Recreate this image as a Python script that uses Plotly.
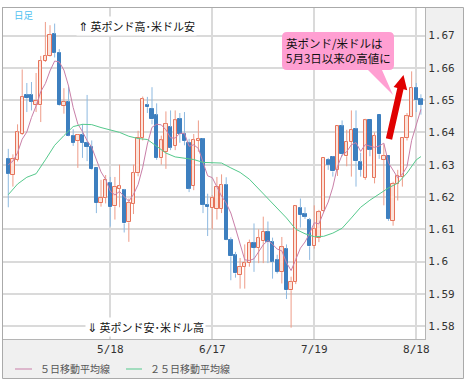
import math
import plotly.graph_objects as go

# ---- data (GBP/USD daily candles, index = trading day) ----
open_ = [1.6319, 1.6268, 1.6316, 1.6395, 1.6516, 1.6516, 1.6486, 1.6484, 1.6621, 1.6637,
         1.6705, 1.6647, 1.6482, 1.6495, 1.6390, 1.6374, 1.6392, 1.6368, 1.6355, 1.6289,
         1.6181, 1.6198, 1.6244, 1.6171, 1.6226, 1.6221, 1.6121, 1.6179, 1.6274, 1.6384,
         1.6485, 1.6474, 1.6453, 1.6320, 1.6340, 1.6416, 1.6358, 1.6442, 1.6395, 1.6368,
         1.6234, 1.6374, 1.6379, 1.6176, 1.6165, 1.6163, 1.6163, 1.6237, 1.6066, 1.6019,
         1.5958, 1.5984, 1.5995, 1.6058, 1.6042, 1.6063, 1.6093, 1.6060, 1.6005, 1.5968,
         1.6040, 1.5911, 1.5937, 1.6166, 1.6147, 1.6128, 1.6047, 1.6074, 1.6158, 1.6316,
         1.6324, 1.6284, 1.6419, 1.6326, 1.6371, 1.6411, 1.6308, 1.6260, 1.6437, 1.6260,
         1.6453, 1.6316, 1.6326, 1.6126, 1.6240, 1.6263, 1.6384, 1.6449, 1.6539, 1.6503]
high = [1.6349, 1.6332, 1.6425, 1.6595, 1.6553, 1.6556, 1.6584, 1.6637, 1.6742, 1.6732,
        1.6737, 1.6658, 1.6537, 1.6542, 1.6410, 1.6395, 1.6426, 1.6516, 1.6375, 1.6290,
        1.6253, 1.6268, 1.6262, 1.6262, 1.6300, 1.6225, 1.6195, 1.6300, 1.6405, 1.6511,
        1.6510, 1.6540, 1.6490, 1.6390, 1.6465, 1.6468, 1.6468, 1.6460, 1.6463, 1.6380,
        1.6395, 1.6437, 1.6382, 1.6210, 1.6205, 1.6262, 1.6270, 1.6261, 1.6075, 1.6030,
        1.6011, 1.6053, 1.6068, 1.6118, 1.6100, 1.6139, 1.6124, 1.6074, 1.6021, 1.6076,
        1.6053, 1.5953, 1.6174, 1.6195, 1.6168, 1.6135, 1.6174, 1.6160, 1.6321, 1.6321,
        1.6326, 1.6421, 1.6437, 1.6408, 1.6468, 1.6468, 1.6337, 1.6442, 1.6437, 1.6400,
        1.6453, 1.6363, 1.6326, 1.6247, 1.6284, 1.6384, 1.6460, 1.6589, 1.6553, 1.6518]
low = [1.6168, 1.6232, 1.6310, 1.6392, 1.6463, 1.6468, 1.6463, 1.6432, 1.6618, 1.6635,
       1.6632, 1.6482, 1.6458, 1.6388, 1.6358, 1.6290, 1.6321, 1.6311, 1.6284, 1.6150,
       1.6170, 1.6180, 1.6108, 1.6130, 1.6168, 1.6090, 1.6061, 1.6147, 1.6264, 1.6375,
       1.6460, 1.6425, 1.6315, 1.6300, 1.6287, 1.6345, 1.6345, 1.6368, 1.6360, 1.6215,
       1.6221, 1.6340, 1.6150, 1.6079, 1.6100, 1.6130, 1.6150, 1.6066, 1.5942, 1.5950,
       1.5916, 1.5916, 1.5984, 1.5968, 1.5995, 1.5995, 1.5995, 1.5947, 1.5963, 1.5932,
       1.5884, 1.5795, 1.5930, 1.6105, 1.6132, 1.6005, 1.6040, 1.6060, 1.6150, 1.6284,
       1.6263, 1.6265, 1.6326, 1.6295, 1.6263, 1.6232, 1.6263, 1.6253, 1.6326, 1.6242,
       1.6318, 1.6174, 1.6126, 1.6111, 1.6189, 1.6232, 1.6375, 1.6447, 1.6463, 1.6455]
close = [1.6272, 1.6318, 1.6400, 1.6511, 1.6506, 1.6495, 1.6498, 1.6621, 1.6637, 1.6702,
         1.6647, 1.6484, 1.6495, 1.6390, 1.6368, 1.6392, 1.6368, 1.6355, 1.6286, 1.6181,
         1.6198, 1.6253, 1.6168, 1.6232, 1.6234, 1.6118, 1.6181, 1.6274, 1.6384, 1.6503,
         1.6478, 1.6440, 1.6321, 1.6375, 1.6426, 1.6353, 1.6437, 1.6395, 1.6374, 1.6226,
         1.6376, 1.6380, 1.6176, 1.6169, 1.6198, 1.6232, 1.6237, 1.6068, 1.6016, 1.5963,
         1.5984, 1.5995, 1.6058, 1.6042, 1.6072, 1.6093, 1.6060, 1.6000, 1.5968, 1.6044,
         1.5911, 1.5937, 1.6171, 1.6144, 1.6139, 1.6047, 1.6100, 1.6153, 1.6321, 1.6300,
         1.6279, 1.6419, 1.6332, 1.6371, 1.6408, 1.6311, 1.6284, 1.6437, 1.6347, 1.6389,
         1.6332, 1.6328, 1.6132, 1.6240, 1.6266, 1.6384, 1.6450, 1.6537, 1.6500, 1.6486]

# 5-day MA: first values (they need earlier closes), rest from closes
ma5_head = [1.6300, 1.6311, 1.6337, 1.6379]
# 25-day MA
ma25_idx = [0, 2, 4, 6, 8, 10, 12, 14, 16, 18, 20, 22, 24, 26, 28, 30, 32, 34, 36, 38,
            40, 42, 44, 46, 48, 50, 52, 54, 56, 58, 60, 62, 64, 66, 68, 70, 72, 74, 76, 78,
            80, 82, 84, 86, 88, 89]
ma25_val = [1.6207, 1.6240, 1.6261, 1.6272, 1.6315, 1.6360, 1.6390, 1.6418, 1.6425, 1.6424,
            1.6415, 1.6408, 1.6400, 1.6388, 1.6381, 1.6378, 1.6358, 1.6336, 1.6324, 1.6321,
            1.6316, 1.6307, 1.6306, 1.6305, 1.6290, 1.6276, 1.6255, 1.6225, 1.6195, 1.6165,
            1.6135, 1.6100, 1.6086, 1.6077, 1.6078, 1.6088, 1.6103, 1.6135, 1.6168, 1.6190,
            1.6210, 1.6228, 1.6243, 1.6274, 1.6315, 1.6325]

xtick_idx = [22, 44, 66, 88]
xtick_text = ["5/18", "6/17", "7/19", "8/18"]
ytick_vals = [1.58, 1.59, 1.60, 1.61, 1.62, 1.63, 1.64, 1.65, 1.66, 1.67]
ytick_text = ["1.58", "1.59", "1.6", "1.61", "1.62", "1.63", "1.64", "1.65", "1.66", "1.67"]

legend_labels = ["５日移動平均線", "２５日移動平均線"]

# ---- styling ----
W, H = 469, 385
ML, MR, MT, MB = 3, 44, 8, 46
PW, PH = W - ML - MR, H - MT - MB

UP_LINE, UP_FILL, UP_WICK = "#E6735A", "#FCE4DB", "#EE9C88"
DN_FILL, DN_WICK = "#3D7FBF", "#8DB9E0"
MA5_C, MA25_C = "#C97FA8", "#55C98C"
GRID = "#DADADA"
PANEL = "#F0F0F0"
FRAME = "#AAAAAA"
JP = "Noto Sans CJK JP"
MONO = "DejaVu Sans Mono"
ARW = "<span style='font-family:DejaVu Sans;font-size:12px'>{}</span>"


def px(x):
    return (x - ML) / PW


def py(y):
    return (H - MB - y) / PH


n = len(close)
idx = list(range(n))
ma5 = ma5_head + [sum(close[i - 4:i + 1]) / 5 for i in range(4, n)]

# wicks
wu_x, wu_y, wd_x, wd_y = [], [], [], []
for i in idx:
    top, bot = max(open_[i], close[i]), min(open_[i], close[i])
    if close[i] >= open_[i]:
        wu_x += [i, i, None, i, i, None]
        wu_y += [high[i], top, None, bot, low[i], None]
    else:
        wd_x += [i, i, None, i, i, None]
        wd_y += [high[i], top, None, bot, low[i], None]

fig = go.Figure()
fig.add_trace(go.Scatter(x=wu_x, y=wu_y, mode="lines", line=dict(color=UP_WICK, width=1),
                         hoverinfo="skip", showlegend=False))
fig.add_trace(go.Scatter(x=wd_x, y=wd_y, mode="lines", line=dict(color=DN_WICK, width=1),
                         hoverinfo="skip", showlegend=False))

body_base = [min(o, c) for o, c in zip(open_, close)]
body_h = [max(abs(c - o), 0.00005) for o, c in zip(open_, close)]
up = [c >= o for o, c in zip(open_, close)]
fig.add_trace(go.Bar(
    x=idx, y=body_h, base=body_base, width=0.72,
    marker=dict(color=[UP_FILL if u else DN_FILL for u in up],
                line=dict(color=[UP_LINE if u else DN_FILL for u in up], width=1)),
    hoverinfo="skip", showlegend=False))

fig.add_trace(go.Scatter(x=idx, y=ma5, mode="lines", line=dict(color=MA5_C, width=1),
                         name=legend_labels[0], showlegend=False))
fig.add_trace(go.Scatter(x=ma25_idx, y=ma25_val, mode="lines", line=dict(color=MA25_C, width=1),
                         name=legend_labels[1], showlegend=False))

shapes = []
# gray panels (right and bottom) + frame
shapes.append(dict(type="rect", xref="paper", yref="paper", x0=px(425), x1=px(463.5),
                   y0=py(339), y1=py(7.5), fillcolor=PANEL, line=dict(width=0), layer="below"))
shapes.append(dict(type="rect", xref="paper", yref="paper", x0=px(2.5), x1=px(463.5),
                   y0=py(378.5), y1=py(339), fillcolor=PANEL, line=dict(width=0), layer="below"))
shapes.append(dict(type="rect", xref="paper", yref="paper", x0=px(2.5), x1=px(463.5),
                   y0=py(378.5), y1=py(7.5), fillcolor="rgba(0,0,0,0)",
                   line=dict(color=FRAME, width=1), layer="above"))

# callout bubble
r = 5
bx0, bx1, by0, by1 = 282, 394, 32, 70
pts = [("M", bx0 + r, by0), ("L", bx1 - r, by0), ("Q", bx1, by0, bx1, by0 + r),
       ("L", bx1, by1 - r), ("Q", bx1, by1, bx1 - r, by1), ("L", 382, by1),
       ("L", 393, 95), ("L", 368, by1), ("L", bx0 + r, by1),
       ("Q", bx0, by1, bx0, by1 - r), ("L", bx0, by0 + r), ("Q", bx0, by0, bx0 + r, by0)]
path = ""
for p in pts:
    if p[0] == "Q":
        path += f"Q{px(p[1])},{py(p[2])} {px(p[3])},{py(p[4])} "
    else:
        path += f"{p[0]}{px(p[1])},{py(p[2])} "
path += "Z"
shapes.append(dict(type="path", xref="paper", yref="paper", path=path,
                   fillcolor="#FF9FD2", line=dict(width=0), layer="above"))

# red arrow polygon
tx, ty, hx, hy = 389, 139, 403.5, 75
dx, dy = hx - tx, hy - ty
ln = math.hypot(dx, dy)
ux, uy = dx / ln, dy / ln
nx, ny = -uy, ux
sw, hw, hl = 3.2, 7.0, 14
neck = (hx - ux * hl, hy - uy * hl)
poly = [(tx + nx * sw, ty + ny * sw), (neck[0] + nx * sw, neck[1] + ny * sw),
        (neck[0] + nx * hw, neck[1] + ny * hw), (hx, hy),
        (neck[0] - nx * hw, neck[1] - ny * hw), (neck[0] - nx * sw, neck[1] - ny * sw),
        (tx - nx * sw, ty - ny * sw)]
apath = "M" + " L".join(f"{px(a)},{py(b)}" for a, b in poly) + " Z"
shapes.append(dict(type="path", xref="paper", yref="paper", path=apath,
                   fillcolor="#E00000", line=dict(width=0), layer="above"))

# legend lines
shapes.append(dict(type="line", xref="paper", yref="paper", x0=px(15), x1=px(32),
                   y0=py(369), y1=py(369), line=dict(color=MA5_C, width=1)))
shapes.append(dict(type="line", xref="paper", yref="paper", x0=px(126), x1=px(142),
                   y0=py(369), y1=py(369), line=dict(color=MA25_C, width=1)))

annotations = [
    dict(text="日足", x=px(24), y=py(15.5), xref="paper", yref="paper", showarrow=False,
         font=dict(family=JP, size=9.5, color="#4FC1F0"), xanchor="center", yanchor="middle"),
    dict(text=ARW.format("⇑") + " 英ポンド高･米ドル安", x=px(136.5), y=py(26), xref="paper",
         yref="paper", showarrow=False, bgcolor="white", borderpad=1,
         font=dict(family=JP, size=11, color="#111111"), xanchor="center", yanchor="middle"),
    dict(text=ARW.format("⇓") + " 英ポンド安･米ドル高", x=px(145.5), y=py(327), xref="paper",
         yref="paper", showarrow=False, bgcolor="white", borderpad=1,
         font=dict(family=JP, size=11, color="#111111"), xanchor="center", yanchor="middle"),
    dict(text="英ポンド/米ドルは<br>5月3日以来の高値に", x=px(284), y=py(50), xref="paper",
         yref="paper", showarrow=False, align="left",
         font=dict(family=JP, size=11.5, color="#111111"), xanchor="left", yanchor="middle"),
    dict(text=legend_labels[0], x=px(38), y=py(369), xref="paper", yref="paper",
         showarrow=False, font=dict(family=JP, size=10, color="#555555"),
         xanchor="left", yanchor="middle"),
    dict(text=legend_labels[1], x=px(148), y=py(369), xref="paper", yref="paper",
         showarrow=False, font=dict(family=JP, size=10, color="#555555"),
         xanchor="left", yanchor="middle"),
]

fig.update_layout(
    width=W, height=H, margin=dict(l=ML, r=MR, t=MT, b=MB, pad=0),
    paper_bgcolor="white", plot_bgcolor="white",
    shapes=shapes, annotations=annotations, barmode="overlay", bargap=0,
    showlegend=False,
    xaxis=dict(range=[-1.14, 89.88], tickmode="array", tickvals=xtick_idx, ticktext=xtick_text,
               showgrid=True, gridcolor=GRID, gridwidth=1.5, zeroline=False,
               showline=True, linecolor="#B5B5B5", linewidth=1, mirror=True, ticks="",
               tickfont=dict(family=MONO, size=11, color="#333333"), fixedrange=True),
    yaxis=dict(range=[1.5760, 1.67853], side="right", tickmode="array", tickvals=ytick_vals,
               ticktext=ytick_text, showgrid=True, gridcolor=GRID, gridwidth=1.5,
               zeroline=False, showline=True, linecolor="#B5B5B5", linewidth=1, mirror=True,
               ticks="", tickfont=dict(family=MONO, size=11, color="#333333"), fixedrange=True),
)

fig.write_html("out.html", config={"displayModeBar": False},
               post_script="document.body.style.margin='0';document.body.style.overflow='hidden';")
